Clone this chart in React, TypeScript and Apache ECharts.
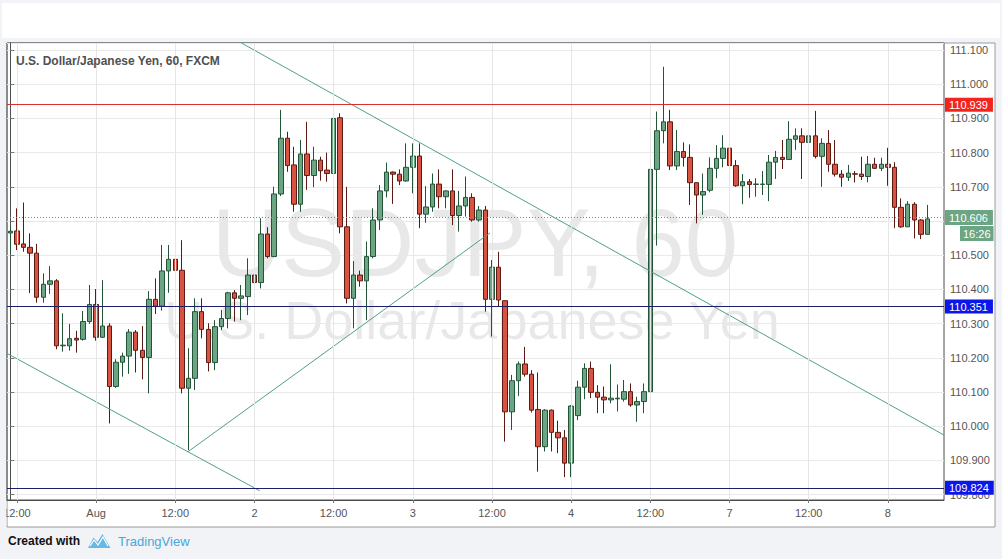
import React, { useEffect, useRef } from "react";
import * as echarts from "echarts";

// ---- data ----
const sessions: [string, number, number][] = [
  ["07-31", 11, 23],
  ["08-01", 0, 23],
  ["08-02", 0, 23],
  ["08-03", 0, 23],
  ["08-04", 0, 20],
  ["08-06", 21, 23],
  ["08-07", 0, 23],
  ["08-08", 0, 6],
];
const emptySlots = ["pad-1", "pad-2"];

const xTickLabels: [string, string][] = [
  ["07-31 12:00", "12:00"],
  ["08-01 00:00", "Aug"],
  ["08-01 12:00", "12:00"],
  ["08-02 00:00", "2"],
  ["08-02 12:00", "12:00"],
  ["08-03 00:00", "3"],
  ["08-03 12:00", "12:00"],
  ["08-04 00:00", "4"],
  ["08-04 12:00", "12:00"],
  ["08-07 00:00", "7"],
  ["08-07 12:00", "12:00"],
  ["08-08 00:00", "8"],
];

// [open, close, low, high]
const candles: number[][] = [
  [110.565, 110.57, 110.505, 110.585],
  [110.571, 110.532, 110.515, 110.637],
  [110.533, 110.523, 110.51, 110.654],
  [110.523, 110.506, 110.389, 110.564],
  [110.506, 110.377, 110.361, 110.533],
  [110.377, 110.415, 110.361, 110.447],
  [110.415, 110.425, 110.387, 110.468],
  [110.425, 110.235, 110.225, 110.43],
  [110.235, 110.237, 110.218, 110.33],
  [110.235, 110.256, 110.221, 110.299],
  [110.257, 110.252, 110.215, 110.279],
  [110.254, 110.306, 110.25, 110.337],
  [110.306, 110.356, 110.299, 110.413],
  [110.356, 110.26, 110.25, 110.401],
  [110.26, 110.293, 110.258, 110.427],
  [110.293, 110.116, 110.008, 110.301],
  [110.116, 110.187, 110.112, 110.196],
  [110.187, 110.205, 110.145, 110.215],
  [110.205, 110.275, 110.153, 110.284],
  [110.275, 110.222, 110.157, 110.281],
  [110.222, 110.201, 110.137, 110.293],
  [110.201, 110.371, 110.096, 110.395],
  [110.371, 110.351, 110.328, 110.432],
  [110.351, 110.454, 110.338, 110.53],
  [110.454, 110.488, 110.39, 110.53],
  [110.488, 110.456, 110.442, 110.593],
  [110.456, 110.111, 110.096, 110.544],
  [110.111, 110.14, 109.93, 110.228],
  [110.14, 110.335, 110.106, 110.374],
  [110.335, 110.283, 110.257, 110.374],
  [110.283, 110.186, 110.16, 110.301],
  [110.186, 110.291, 110.164, 110.31],
  [110.291, 110.315, 110.281, 110.34],
  [110.315, 110.39, 110.286, 110.393],
  [110.39, 110.374, 110.306, 110.398],
  [110.374, 110.381, 110.31, 110.413],
  [110.379, 110.442, 110.325, 110.491],
  [110.442, 110.42, 110.354, 110.491],
  [110.42, 110.562, 110.403, 110.608],
  [110.562, 110.496, 110.491, 110.582],
  [110.496, 110.679, 110.494, 110.7],
  [110.679, 110.842, 110.673, 110.925],
  [110.842, 110.762, 110.744, 110.861],
  [110.764, 110.649, 110.627, 110.817],
  [110.649, 110.796, 110.627, 110.837],
  [110.796, 110.733, 110.691, 110.89],
  [110.733, 110.778, 110.699, 110.817],
  [110.778, 110.747, 110.718, 110.788],
  [110.749, 110.739, 110.715, 110.8],
  [110.739, 110.9, 110.65, 110.983],
  [110.902, 110.583, 110.564, 110.915],
  [110.583, 110.374, 110.359, 110.7],
  [110.374, 110.442, 110.286, 110.483],
  [110.442, 110.425, 110.408, 110.455],
  [110.425, 110.496, 110.31, 110.54],
  [110.496, 110.603, 110.491, 110.637],
  [110.603, 110.688, 110.574, 110.705],
  [110.688, 110.743, 110.669, 110.771],
  [110.743, 110.737, 110.65, 110.745],
  [110.737, 110.717, 110.705, 110.751],
  [110.717, 110.757, 110.715, 110.827],
  [110.757, 110.79, 110.681, 110.827],
  [110.79, 110.62, 110.579, 110.827],
  [110.62, 110.641, 110.595, 110.702],
  [110.641, 110.708, 110.627, 110.739],
  [110.708, 110.671, 110.637, 110.751],
  [110.671, 110.688, 110.637, 110.69],
  [110.688, 110.616, 110.588, 110.751],
  [110.616, 110.644, 110.569, 110.688],
  [110.644, 110.669, 110.613, 110.73],
  [110.669, 110.603, 110.598, 110.681],
  [110.603, 110.632, 110.598, 110.644],
  [110.632, 110.371, 110.335, 110.644],
  [110.371, 110.465, 110.262, 110.486],
  [110.465, 110.369, 110.35, 110.51],
  [110.367, 110.042, 109.955, 110.367],
  [110.042, 110.133, 109.989, 110.15],
  [110.133, 110.182, 110.088, 110.189],
  [110.182, 110.152, 110.145, 110.232],
  [110.152, 110.047, 110.04, 110.164],
  [110.049, 109.94, 109.867, 110.157],
  [109.94, 110.047, 109.926, 110.05],
  [110.047, 109.982, 109.926, 110.049],
  [109.982, 109.966, 109.921, 110.016],
  [109.966, 109.892, 109.851, 109.989],
  [109.892, 110.059, 109.851, 110.062],
  [110.031, 110.114, 110.018, 110.133],
  [110.114, 110.169, 110.079, 110.184],
  [110.169, 110.099, 110.082, 110.189],
  [110.099, 110.085, 110.038, 110.12],
  [110.085, 110.077, 110.038, 110.116],
  [110.077, 110.082, 110.067, 110.181],
  [110.08, 110.082, 110.043, 110.122],
  [110.079, 110.101, 110.072, 110.135],
  [110.101, 110.062, 110.057, 110.125],
  [110.062, 110.072, 110.013, 110.086],
  [110.072, 110.101, 110.038, 110.125],
  [110.101, 110.751, 110.033, 110.775],
  [110.751, 110.864, 110.528, 110.92],
  [110.864, 110.89, 110.827, 111.051],
  [110.89, 110.761, 110.749, 110.925],
  [110.761, 110.803, 110.749, 110.866],
  [110.803, 110.786, 110.759, 110.83],
  [110.786, 110.712, 110.647, 110.824],
  [110.712, 110.676, 110.593, 110.712],
  [110.676, 110.686, 110.618, 110.739],
  [110.69, 110.754, 110.684, 110.786],
  [110.754, 110.783, 110.725, 110.822],
  [110.783, 110.813, 110.757, 110.851],
  [110.813, 110.762, 110.681, 110.827],
  [110.762, 110.703, 110.7, 110.778],
  [110.703, 110.715, 110.649, 110.737],
  [110.715, 110.707, 110.668, 110.723],
  [110.707, 110.708, 110.671, 110.725],
  [110.707, 110.708, 110.676, 110.746],
  [110.707, 110.772, 110.658, 110.793],
  [110.772, 110.786, 110.723, 110.805],
  [110.786, 110.78, 110.752, 110.837],
  [110.78, 110.839, 110.78, 110.892],
  [110.839, 110.849, 110.808, 110.871],
  [110.849, 110.83, 110.723, 110.871],
  [110.83, 110.849, 110.798, 110.892],
  [110.849, 110.789, 110.783, 110.922],
  [110.789, 110.827, 110.7, 110.842],
  [110.827, 110.766, 110.744, 110.866],
  [110.766, 110.737, 110.73, 110.837],
  [110.737, 110.728, 110.7, 110.749],
  [110.728, 110.74, 110.717, 110.764],
  [110.738, 110.737, 110.713, 110.746],
  [110.737, 110.73, 110.72, 110.788],
  [110.73, 110.766, 110.713, 110.79],
  [110.766, 110.754, 110.752, 110.785],
  [110.754, 110.766, 110.746, 110.785],
  [110.766, 110.757, 110.703, 110.814],
  [110.757, 110.64, 110.579, 110.772],
  [110.64, 110.583, 110.58, 110.666],
  [110.583, 110.649, 110.583, 110.658],
  [110.649, 110.603, 110.549, 110.655],
  [110.603, 110.561, 110.547, 110.606],
  [110.561, 110.606, 110.561, 110.647],
];

const resistanceLevel = 110.939;
const pivotLevel = 110.351;
const supportLevel = 109.824;
const lastPrice = 110.606;
const countdown = "16:26";
// tick label fully hidden behind the last-price box in the reference
const hiddenTickLabels = [110.6];

// trend lines: [barIndex, price] endpoints
const trendLines: number[][][] = [
  [[34.8, 111.123], [141.5, 109.974]],
  [[-0.5, 110.213], [37.8, 109.811]],
  [[26.9, 109.925], [72.7, 110.565]],
];

const titleText = "U.S. Dollar/Japanese Yen, 60, FXCM";
const watermarkMain = "USDJPY, 60";
const watermarkSub = "U.S. Dollar/Japanese Yen";

const FONT = "Arial, 'Liberation Sans', sans-serif";

export default function App() {
  const ref = useRef<HTMLDivElement>(null);

  useEffect(() => {
    const chart = echarts.init(ref.current!, null, { renderer: "svg" });

    const categories: string[] = [];
    sessions.forEach(([d, h0, h1]) => {
      for (let h = h0; h <= h1; h++) categories.push(`${d} ${String(h).padStart(2, "0")}:00`);
    });
    const allCats = [...categories, ...emptySlots];
    const tickMap = new Map<string, string>(xTickLabels);
    const isTick = (i: number) => tickMap.has(allCats[i]);

    const gridLeft = 7, gridTop = 43, gridW = 937, gridH = 457;

    const priceLabel = (bg: string, text: string) => ({
      show: true,
      position: "end",
      distance: 1,
      formatter: () => text,
      color: "#fff",
      backgroundColor: bg,
      padding: [2, 5, 1, 4],
      fontSize: 11,
      fontFamily: FONT,
    });

    const option: any = {
      animation: false,
      grid: {
        left: gridLeft,
        top: gridTop,
        width: gridW,
        height: gridH,
        show: true,
        borderColor: "#4d4d4d",
        borderWidth: 1,
        backgroundColor: "transparent",
      },
      xAxis: [
        {
          type: "category",
          data: allCats,
          boundaryGap: true,
          axisLine: { show: true, lineStyle: { color: "#4d4d4d" } },
          axisTick: {
            show: true,
            alignWithLabel: true,
            interval: (i: number) => isTick(i),
            length: 3,
            lineStyle: { color: "#777" },
          },
          axisLabel: {
            interval: (i: number) => isTick(i),
            formatter: (v: string) => tickMap.get(v) || "",
            color: "#555",
            fontSize: 11,
            fontFamily: FONT,
            margin: 7,
          },
          splitLine: { show: false },
        },
        {
          type: "value",
          min: -0.5,
          max: allCats.length - 0.5,
          show: false,
        },
      ],
      yAxis: {
        type: "value",
        position: "right",
        min: 109.7842,
        max: 111.1205,
        splitNumber: 13,
        minInterval: 0.1,
        maxInterval: 0.1,
        axisLine: { show: true, lineStyle: { color: "#4d4d4d" } },
        axisTick: { show: true, length: 4, lineStyle: { color: "#777" } },
        axisLabel: {
          formatter: (v: number) =>
            hiddenTickLabels.some((h) => Math.abs(h - v) < 1e-6) ? "" : v.toFixed(3),
          color: "#555",
          fontSize: 11,
          fontFamily: FONT,
          margin: 6,
          showMinLabel: false,
          showMaxLabel: false,
        },
        splitLine: { show: true, lineStyle: { color: "#e9e9e9", width: 1 } },
      },
      graphic: [
        { type: "rect", z: -20, shape: { x: 2, y: 3, width: 998, height: 35 }, style: { fill: "#ffffff" } },
        {
          type: "rect",
          z: -20,
          shape: { x: 7, y: 43, width: 988, height: 484 },
          style: { fill: "#ffffff", stroke: "#9a9a9a", lineWidth: 1 },
        },
        {
          type: "text",
          z: -5,
          x: 475,
          y: 242,
          style: {
            text: watermarkMain,
            fill: "rgba(0,0,0,0.09)",
            font: `96px ${FONT}`,
            align: "center",
            verticalAlign: "middle",
          },
        },
        {
          type: "text",
          z: -5,
          x: 472,
          y: 320,
          style: {
            text: watermarkSub,
            fill: "rgba(0,0,0,0.09)",
            font: `54px ${FONT}`,
            align: "center",
            verticalAlign: "middle",
          },
        },
        {
          type: "text",
          z: 20,
          x: 16,
          y: 61,
          style: { text: titleText, fill: "#505050", font: `bold 12px ${FONT}`, align: "left", verticalAlign: "middle" },
        },
        { type: "rect", z: 30, shape: { x: 0, y: 501, width: 6.5, height: 25 }, style: { fill: "#f1f3f6" } },
        {
          type: "text",
          z: 20,
          x: 8,
          y: 541,
          style: { text: "Created with", fill: "#111", font: `bold 12px ${FONT}`, align: "left", verticalAlign: "middle" },
        },
        {
          type: "polygon",
          z: 20,
          shape: { points: [[88, 548], [93.5, 537.5], [97.5, 542], [102.5, 534], [110.5, 548]] },
          style: { fill: "#66b9e6" },
        },
        {
          type: "polyline",
          z: 21,
          shape: { points: [[90, 546], [94, 540], [98, 545], [103, 537], [108, 546]] },
          style: { stroke: "#ffffff", lineWidth: 1.2, fill: "none" },
        },
        {
          type: "text",
          z: 20,
          x: 118,
          y: 541,
          style: { text: "TradingView", fill: "#47a7dc", font: `13px ${FONT}`, align: "left", verticalAlign: "middle" },
        },
      ],
      series: [
        {
          type: "line",
          data: [],
          z: 1,
          silent: true,
          markLine: {
            silent: true,
            symbol: ["none", "none"],
            label: { show: false },
            lineStyle: { color: "#e6e6e6", width: 1, type: "solid" },
            data: xTickLabels.map(([c]) => ({ xAxis: c })),
          },
        },
        {
          type: "candlestick",
          z: 3,
          barWidth: 5,
          data: candles,
          itemStyle: {
            color: "#6ba583",
            color0: "#d75442",
            borderColor: "#225437",
            borderColor0: "#5b1a13",
            borderColorDoji: "#444",
            borderWidth: 1,
          },
          markLine: {
            silent: true,
            symbol: ["none", "none"],
            data: [
              {
                yAxis: resistanceLevel,
                lineStyle: { color: "#d8312b", width: 1, type: "solid" },
                label: priceLabel("#f3241e", resistanceLevel.toFixed(3)),
              },
              {
                yAxis: pivotLevel,
                lineStyle: { color: "#1b1f6e", width: 1, type: "solid" },
                label: priceLabel("#0b17e8", pivotLevel.toFixed(3)),
              },
              {
                yAxis: supportLevel,
                lineStyle: { color: "#1b1f6e", width: 1, type: "solid" },
                label: priceLabel("#0b17e8", supportLevel.toFixed(3)),
              },
              {
                yAxis: lastPrice,
                lineStyle: { color: "#6f8f7d", width: 1, type: [1, 2] },
                label: {
                  show: true,
                  position: "end",
                  distance: 1,
                  formatter: () => `{s| }\n{a|${lastPrice.toFixed(3)}}\n{g| }{b|${countdown}}`,
                  fontSize: 11,
                  fontFamily: FONT,
                  rich: {
                    s: { height: 15, lineHeight: 16, fontSize: 11 },
                    a: {
                      color: "#fff",
                      backgroundColor: "#6ba583",
                      padding: [0, 5, 0, 4],
                      height: 15,
                      lineHeight: 16,
                      fontSize: 11,
                      fontFamily: FONT,
                    },
                    g: { width: 15, height: 15, lineHeight: 16, fontSize: 11 },
                    b: {
                      color: "#fff",
                      backgroundColor: "#6ba583",
                      padding: [0, 3, 0, 3],
                      height: 15,
                      lineHeight: 16,
                      fontSize: 11,
                      fontFamily: FONT,
                    },
                  },
                },
              },
            ],
          },
        },
        ...trendLines.map((pts) => ({
          type: "line",
          xAxisIndex: 1,
          yAxisIndex: 0,
          data: pts,
          symbol: "none",
          silent: true,
          clip: true,
          z: 4,
          lineStyle: { color: "#4f9f8c", width: 1 },
        })),
      ],
    };

    chart.setOption(option);
    return () => chart.dispose();
  }, []);

  return (
    <div style={{ position: "fixed", left: 0, top: 0, width: 1002, height: 559, background: "#f1f3f6" }}>
      <div ref={ref} style={{ width: 1002, height: 559 }} />
    </div>
  );
}
